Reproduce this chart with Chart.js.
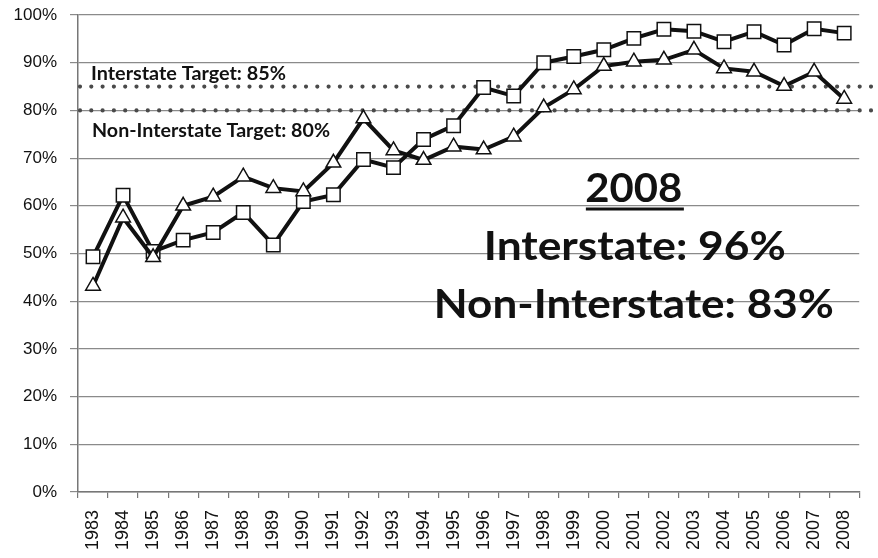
<!DOCTYPE html>
<html>
<head>
<meta charset="utf-8">
<script src="https://cdn.jsdelivr.net/npm/chart.js@4/dist/chart.umd.min.js"></script>
<style>
html,body{margin:0;padding:0;background:#fff;}
#wrap{width:878px;height:558px;position:relative;}
</style>
</head>
<body>
<div id="wrap"><canvas id="c" width="878" height="558"></canvas></div>
<script>
const years = ['1983','1984','1985','1986','1987','1988','1989','1990','1991','1992','1993','1994','1995','1996','1997','1998','1999','2000','2001','2002','2003','2004','2005','2006','2007','2008'];
const interstate = [49.3, 62.2, 50.4, 52.8, 54.4, 58.6, 51.8, 60.9, 62.3, 69.7, 68.0, 73.9, 76.8, 84.8, 83.0, 90.0, 91.3, 92.7, 95.1, 97.0, 96.6, 94.4, 96.5, 93.7, 97.1, 96.2];
const nonInterstate = [43.2, 57.5, 49.2, 60.0, 61.9, 66.1, 63.7, 63.0, 69.0, 78.3, 71.6, 69.6, 72.4, 71.8, 74.5, 80.6, 84.4, 89.3, 90.2, 90.6, 92.7, 88.8, 88.1, 85.1, 88.1, 82.4];
const targetValues = [85, 80];
const targetLabels = ['Interstate Target: 85%', 'Non-Interstate Target: 80%'];
const summaryLines = ['2008', 'Interstate: 96%', 'Non-Interstate: 83%'];

Chart.defaults.font.family = "'Liberation Sans', Arial, sans-serif";
Chart.defaults.font.size = 17;
Chart.defaults.color = '#111';

function fitText(ctx, text, x, y, width, font, align) {
  ctx.save();
  ctx.font = font;
  const w = ctx.measureText(text).width;
  const sx = width / w;
  ctx.translate(x, y);
  ctx.scale(sx, 1);
  ctx.textBaseline = 'alphabetic';
  ctx.textAlign = align;
  ctx.fillText(text, 0, 0);
  ctx.restore();
}

const overlay = {
  id: 'overlay',
  beforeDatasetsDraw(chart) {
    const {ctx, chartArea} = chart;
    const y = chart.scales.y;
    ctx.save();
    ctx.strokeStyle = '#4a4a4a';
    ctx.lineWidth = 4.2;
    ctx.lineCap = 'round';
    ctx.setLineDash([0, 11.3]);
    targetValues.forEach(v => {
      const py = y.getPixelForValue(v);
      ctx.beginPath();
      ctx.moveTo(chartArea.left + 2, py);
      ctx.lineTo(chart.width, py);
      ctx.stroke();
    });
    ctx.restore();
    ctx.fillStyle = '#111';
    fitText(ctx, targetLabels[0], chartArea.left + 13, y.getPixelForValue(86.4), 195, 'bold 18px Lato', 'left');
    fitText(ctx, targetLabels[1], chartArea.left + 14, y.getPixelForValue(74.5), 238, 'bold 18px Lato', 'left');
  },
  afterDatasetsDraw(chart) {
    const {ctx} = chart;
    const y = chart.scales.y;
    const x = chart.scales.x;
    const cx = x.getPixelForValue(18);
    ctx.fillStyle = '#111';
    const b0 = y.getPixelForValue(60.9);
    fitText(ctx, summaryLines[0], cx, b0, 97, 'bold 40px Lato', 'center');
    ctx.fillRect(cx - 48, b0 + 6, 98, 3);
    fitText(ctx, summaryLines[1], cx + 1, y.getPixelForValue(48.6), 302, 'bold 41px Lato', 'center');
    fitText(ctx, summaryLines[2], cx, y.getPixelForValue(36.5), 400, 'bold 41px Lato', 'center');
  }
};

new Chart(document.getElementById('c'), {
  type: 'line',
  data: {
    labels: years,
    datasets: [
      {
        label: 'Non-Interstate',
        data: nonInterstate,
        borderColor: '#111',
        borderWidth: 4,
        pointStyle: 'triangle',
        pointRadius: 8.5,
        pointBackgroundColor: '#fff',
        pointBorderColor: '#111',
        pointBorderWidth: 1.5,
        tension: 0,
        order: 1
      },
      {
        label: 'Interstate',
        data: interstate,
        borderColor: '#111',
        borderWidth: 4,
        pointStyle: 'rect',
        pointRadius: 9.5,
        pointBackgroundColor: '#fff',
        pointBorderColor: '#111',
        pointBorderWidth: 1.5,
        tension: 0,
        order: 2
      }
    ]
  },
  options: {
    responsive: false,
    animation: false,
    events: [],
    layout: {padding: {top: 15, right: 3, left: 0, bottom: 0}},
    plugins: {legend: {display: false}, tooltip: {enabled: false}},
    scales: {
      x: {
        offset: true,
        grid: {offset: true, drawOnChartArea: false, drawTicks: true, tickLength: 6, color: '#777', lineWidth: 1.2},
        border: {color: '#777', width: 1.5},
        ticks: {minRotation: 90, maxRotation: 90, autoSkip: false, padding: 12, color: '#111', font: {size: 18}},
        afterFit(s) { s.height = 66; }
      },
      y: {
        min: 0, max: 100,
        ticks: {stepSize: 10, padding: 13, color: '#111', font: {size: 17}, callback: v => v + '%'},
        grid: {color: '#8a8a8a', lineWidth: 1.2, tickLength: 8},
        border: {color: '#777', width: 1.5},
        afterFit(s) { s.width = 78; s.paddingTop = 8; s.paddingBottom = 8; }
      }
    }
  },
  plugins: [overlay]
});
</script>
</body>
</html>
